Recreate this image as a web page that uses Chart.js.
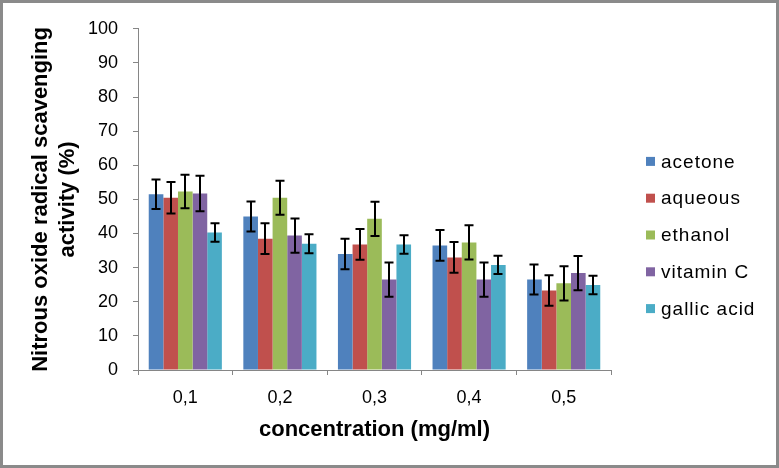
<!DOCTYPE html>
<html>
<head>
<meta charset="utf-8">
<script src="https://cdn.jsdelivr.net/npm/chart.js@4.4.1/dist/chart.umd.min.js"></script>
<style>
  html, body { margin: 0; padding: 0; background: #fff; }
  #frame { width: 779px; height: 468px; box-sizing: border-box; border: 3px solid #8a8a8a; }
  canvas { display: block; }
</style>
</head>
<body>
<div id="frame"><canvas id="chart" width="773" height="462"></canvas></div>
<script>
// podaci ocitani sa slike
const concentrations = ['0,1', '0,2', '0,3', '0,4', '0,5'];
const seriesNames = ['acetone', 'aqueous', 'ethanol', 'vitamin C', 'gallic acid'];
const seriesColors = ['#4F81BD', '#C0504D', '#9BBB59', '#8064A2', '#4BACC6'];

const acetone = [51.5, 45.0, 34.0, 36.5, 26.5];
const aqueous = [50.5, 38.5, 36.8, 33.0, 23.3];
const ethanol = [52.3, 50.5, 44.3, 37.4, 25.4];
const vitaminC = [51.7, 39.4, 26.5, 26.5, 28.4];
const gallicAcid = [40.3, 37.0, 36.8, 30.8, 24.9];

const acetoneErr = [4.3, 4.4, 4.5, 4.5, 4.4];
const aqueousErr = [4.6, 4.5, 4.5, 4.5, 4.5];
const ethanolErr = [4.9, 5.0, 5.0, 5.0, 5.0];
const vitaminCErr = [5.2, 5.0, 5.0, 5.0, 5.0];
const gallicAcidErr = [2.7, 2.8, 2.7, 2.7, 2.7];

const yTicks = [0, 10, 20, 30, 40, 50, 60, 70, 80, 90, 100];

const values = [acetone, aqueous, ethanol, vitaminC, gallicAcid];
const errors = [acetoneErr, aqueousErr, ethanolErr, vitaminCErr, gallicAcidErr];

const axisColor = '#868686';
const fontFamily = '"Liberation Sans", Arial, sans-serif';

// error bars crtani preko skale
const errorBarPlugin = {
    id: 'errorBars',
    afterDatasetsDraw(chart) {
        const ctx = chart.ctx;
        const yScale = chart.scales.y;
        ctx.save();
        ctx.strokeStyle = '#000';
        ctx.lineWidth = 2;
        chart.data.datasets.forEach((ds, i) => {
            const meta = chart.getDatasetMeta(i);
            meta.data.forEach((bar, j) => {
                const v = ds.data[j];
                const e = ds.errors[j];
                const yTop = yScale.getPixelForValue(v + e);
                const yBot = yScale.getPixelForValue(v - e);
                const x = Math.round(bar.x);
                ctx.beginPath();
                ctx.moveTo(x, yTop);
                ctx.lineTo(x, yBot);
                ctx.moveTo(x - 4.5, yTop);
                ctx.lineTo(x + 4.5, yTop);
                ctx.moveTo(x - 4.5, yBot);
                ctx.lineTo(x + 4.5, yBot);
                ctx.stroke();
            });
        });
        ctx.restore();
    }
};

// legenda desno, kao u Excelu
const sideLegendPlugin = {
    id: 'sideLegend',
    afterDraw(chart) {
        const ctx = chart.ctx;
        const x0 = chart.chartArea.right + 35;
        const step = 36.8;
        const yMid = 232;
        const n = chart.data.datasets.length;
        ctx.save();
        ctx.font = '19px ' + fontFamily;
        if ('letterSpacing' in ctx) ctx.letterSpacing = '1px';
        ctx.textBaseline = 'middle';
        ctx.textAlign = 'left';
        chart.data.datasets.forEach((ds, i) => {
            const y = yMid + (i - (n - 1) / 2) * step;
            ctx.fillStyle = ds.backgroundColor;
            ctx.fillRect(x0, y - 4.5, 9, 9);
            ctx.fillStyle = '#000';
            ctx.fillText(ds.label, x0 + 15, y + 1);
        });
        ctx.restore();
    }
};

new Chart(document.getElementById('chart'), {
    type: 'bar',
    data: {
        labels: concentrations,
        datasets: seriesNames.map((name, i) => ({
            label: name,
            data: values[i],
            errors: errors[i],
            backgroundColor: seriesColors[i],
            borderWidth: 0,
            categoryPercentage: 0.773,
            barPercentage: 1.0
        }))
    },
    options: {
        responsive: false,
        animation: false,
        devicePixelRatio: 1,
        layout: { padding: { left: 0, top: 22, right: 165, bottom: 0 } },
        plugins: {
            legend: { display: false },
            tooltip: { enabled: false }
        },
        scales: {
            x: {
                grid: {
                    offset: true,
                    drawOnChartArea: false,
                    drawTicks: true,
                    tickLength: 5,
                    color: axisColor
                },
                border: { color: axisColor, width: 1 },
                ticks: {
                    color: '#000',
                    padding: 12,
                    font: { family: fontFamily, size: 18 }
                },
                title: {
                    display: true,
                    text: 'concentration (mg/ml)',
                    color: '#000',
                    padding: { top: 0, bottom: 22 },
                    font: { family: fontFamily, size: 22, weight: 'bold', lineHeight: 1.2 }
                },
                afterFit(scale) { scale.height = 95; }
            },
            y: {
                min: 0,
                max: 100,
                afterBuildTicks(scale) { scale.ticks = yTicks.map(v => ({ value: v })); },
                grid: {
                    drawOnChartArea: false,
                    drawTicks: true,
                    tickLength: 5,
                    color: axisColor
                },
                border: { color: axisColor, width: 1 },
                ticks: {
                    color: '#000',
                    padding: 15,
                    font: { family: fontFamily, size: 18 }
                },
                title: {
                    display: true,
                    text: ['Nitrous oxide radical scavenging', 'activity (%)'],
                    color: '#000',
                    padding: { top: 25, bottom: 0 },
                    font: { family: fontFamily, size: 22, weight: 'bold', lineHeight: 1.21 }
                },
                afterFit(scale) { scale.width = 135; }
            }
        }
    },
    plugins: [errorBarPlugin, sideLegendPlugin]
});
</script>
</body>
</html>
